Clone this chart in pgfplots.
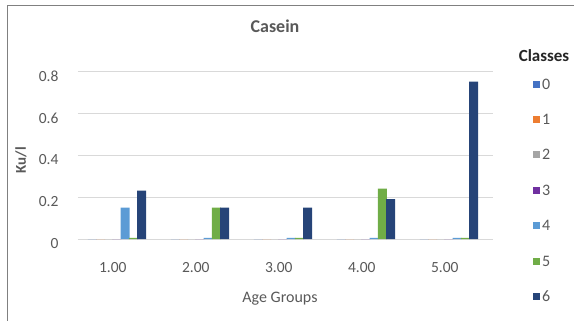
\documentclass[border=0pt]{standalone}
\usepackage{pgfplots}
\pgfplotsset{compat=1.18}
\usepackage{fontspec}
\setmainfont{Carlito}
\definecolor{txt}{HTML}{595959}
\definecolor{gridc}{HTML}{D9D9D9}
\definecolor{c0}{HTML}{4472C4}
\definecolor{c1}{HTML}{ED7D31}
\definecolor{c2}{HTML}{A5A5A5}
\definecolor{c3}{HTML}{7030A0}
\definecolor{c4}{HTML}{5B9BD5}
\definecolor{c5}{HTML}{70AD47}
\definecolor{c6}{HTML}{264478}
\pgfplotsset{
  cls/.style 2 args={ybar, bar width=9pt, bar shift=#2, draw=none, fill=#1,
    legend image code/.code={\fill[fill=#1] (0pt,-3.5pt) rectangle (7pt,3.5pt);}},
}
\begin{document}
\begin{tikzpicture}[x=1pt,y=1pt]
\useasboundingbox (0,0) rectangle (574,-321);
\begin{scope}
\clip (0,0) rectangle (574,-321);
\draw[line width=1pt, color=gray] (7,-6) rectangle (600,-340);
\end{scope}
\node[font=\fontsize{18}{22}\selectfont\bfseries, text=txt] at (275,-26) {Casein};
\node[font=\fontsize{15}{18}\selectfont\bfseries, text=txt, rotate=90] at (21,-160) {Ku/l};
\node[font=\fontsize{16}{19}\selectfont, text=txt] at (280,-299) {Age Groups};
\node[font=\fontsize{17}{20}\selectfont\bfseries, text=black!85] at (544,-56) {Classes};
\begin{axis}[
  at={(78pt,-239pt)}, anchor=south west,
  scale only axis, width=415pt, height=168pt,
  xmin=0.58, xmax=5.58, ymin=0, ymax=0.8,
  ytick={0,0.2,0.4,0.6,0.8},
  xtick={1,2,3,4,5},
  xticklabels={1.00,2.00,3.00,4.00,5.00},
  /pgf/number format/assume math mode=true,
  axis line style={draw=none},
  major tick length=0pt,
  xmajorgrids=false, ymajorgrids=true,
  major grid style={color=gridc, line width=1pt},
  ticklabel style={font=\fontsize{15.5}{18}\selectfont, text=txt},
  yticklabel style={xshift=-16pt, yshift=-5pt},
  xticklabel style={yshift=-20pt},
  legend style={at={(1.0964,0.964)}, anchor=north west, draw=none, fill=none,
    inner sep=0pt, outer sep=0pt, row sep=21.4pt,
    font=\fontsize{16}{19}\selectfont, text=txt,
    nodes={inner sep=2pt, text height=10pt, text depth=0pt}},
  clip=false,
]
\addplot[cls={c0}{-20.5pt}] coordinates {(1,0) (2,0) (3,0) (4,0) (5,0)};
\addplot[cls={c1}{-12.3pt}] coordinates {(1,0) (2,0) (3,0) (4,0) (5,0)};
\addplot[cls={c2}{-4.1pt}] coordinates {(1,0) (2,0) (3,0) (4,0) (5,0)};
\addplot[cls={c3}{4.1pt}] coordinates {(1,0) (2,0) (3,0) (4,0) (5,0)};
\addplot[cls={c4}{12.3pt}] coordinates {(1,0.15) (2,0.005) (3,0.005) (4,0.005) (5,0.005)};
\addplot[cls={c5}{20.5pt}] coordinates {(1,0.005) (2,0.15) (3,0.005) (4,0.24) (5,0.005)};
\addplot[cls={c6}{28.7pt}] coordinates {(1,0.23) (2,0.15) (3,0.15) (4,0.19) (5,0.75)};
\legend{0,1,2,3,4,5,6}
\end{axis}
\end{tikzpicture}
\end{document}
